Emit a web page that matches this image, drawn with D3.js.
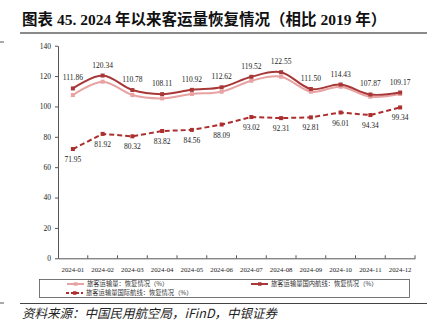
<!DOCTYPE html>
<html>
<head>
<meta charset="utf-8">
<script src="https://cdn.jsdelivr.net/npm/d3@7"></script>
<style>
  body { margin: 0; background: #fff; }
  svg { display: block; }
</style>
</head>
<body>
<svg id="chart" width="435" height="335"></svg>
<script>
// monthly passenger volume recovery vs 2019 (%)
const months = ["2024-01", "2024-02", "2024-03", "2024-04", "2024-05", "2024-06",
    "2024-07", "2024-08", "2024-09", "2024-10", "2024-11", "2024-12"];
const totalRecovery = [107.5, 116.3, 107.5, 105.3, 108.2, 109.7, 116.9, 119.6, 109.7, 113.0, 106.4, 108.2];
const domesticRecovery = [111.86, 120.34, 110.78, 108.11, 110.92, 112.62, 119.52, 122.55, 111.50, 114.43, 107.87, 109.17];
const intlRecovery = [71.95, 81.92, 80.32, 83.82, 84.56, 88.09, 93.02, 92.31, 92.81, 96.01, 94.34, 99.34];
const yTicks = [0, 20, 40, 60, 80, 100, 120, 140];

const serif = "'Liberation Serif', 'Times New Roman', serif";
const cjk = "'Noto Sans CJK SC', sans-serif";

const svg = d3.select("#chart");

// header
svg.append("text")
    .attr("x", 22).attr("y", 25)
    .style("font-family", serif + ", 'Noto Sans CJK SC'")
    .style("font-weight", "bold")
    .style("font-size", "15.5px")
    .attr("fill", "#111")
    .text("图表 45. 2024 年以来客运量恢复情况（相比 2019 年）");

svg.append("line")
    .attr("x1", 20).attr("x2", 427).attr("y1", 33).attr("y2", 33)
    .attr("stroke", "#8a8a8a").attr("stroke-width", 2);

// small page marks at the left edge
svg.append("line").attr("x1", 0).attr("x2", 4).attr("y1", 42).attr("y2", 42)
    .attr("stroke", "#555").attr("stroke-width", 1);
svg.append("line").attr("x1", 0).attr("x2", 4).attr("y1", 303).attr("y2", 303)
    .attr("stroke", "#555").attr("stroke-width", 1);

const plot = { left: 58, right: 415, top: 45.7, bottom: 258.3 };

const x = d3.scaleBand().domain(months).range([plot.left, plot.right]);
const y = d3.scaleLinear().domain([0, 140]).range([plot.bottom, plot.top]);
const cx = d => x(d) + x.bandwidth() / 2;

// y axis
const yAxis = svg.append("g")
    .attr("transform", "translate(" + plot.left + ",0)")
    .call(d3.axisLeft(y).tickValues(yTicks).tickSize(3).tickPadding(4).tickSizeOuter(0));
yAxis.select(".domain").attr("stroke", "#555");
yAxis.selectAll(".tick line").attr("stroke", "#555");
yAxis.selectAll("text").style("font-family", serif).style("font-size", "7.5px").attr("fill", "#222");

// x axis, ticks at band edges pointing up
const xAxis = svg.append("g")
    .attr("transform", "translate(0," + plot.bottom + ")")
    .call(d3.axisBottom(x).tickSize(0).tickPadding(9));
xAxis.select(".domain").attr("stroke", "#555");
xAxis.selectAll("text").style("font-family", serif).style("font-size", "6.8px").attr("fill", "#222");
svg.append("g").selectAll("line")
    .data(months.slice(1).concat(["end"]))
    .join("line")
    .attr("x1", (d, i) => x(months[0]) + x.bandwidth() * (i + 1))
    .attr("x2", (d, i) => x(months[0]) + x.bandwidth() * (i + 1))
    .attr("y1", plot.bottom).attr("y2", plot.bottom - 3)
    .attr("stroke", "#555");

const series = [
    { name: "旅客运输量：恢复情况（%）", values: totalRecovery, color: "#e8a2a2", dash: null, smooth: true },
    { name: "旅客运输量国内航线：恢复情况（%）", values: domesticRecovery, color: "#a83838", dash: null, smooth: true },
    { name: "旅客运输量国际航线：恢复情况（%）", values: intlRecovery, color: "#ad2e2e", dash: "5,3", smooth: false }
];

series.forEach(s => {
    const line = d3.line()
        .x((d, i) => cx(months[i]))
        .y(d => y(d))
        .curve(s.smooth ? d3.curveCardinal.tension(0) : d3.curveLinear);

    svg.append("path")
        .datum(s.values)
        .attr("d", line)
        .attr("fill", "none")
        .attr("stroke", s.color)
        .attr("stroke-width", 2)
        .attr("stroke-dasharray", s.dash);

    svg.append("g").selectAll("rect")
        .data(s.values)
        .join("rect")
        .attr("x", (d, i) => cx(months[i]) - 2)
        .attr("y", d => y(d) - 2)
        .attr("width", 4).attr("height", 4)
        .attr("fill", s.color);
});

// value labels: domestic above, international below
svg.append("g").selectAll("text")
    .data(domesticRecovery)
    .join("text")
    .attr("x", (d, i) => cx(months[i]))
    .attr("y", d => y(d) - 8)
    .attr("text-anchor", "middle")
    .style("font-family", serif).style("font-size", "7.5px")
    .attr("fill", "#222")
    .text(d => d.toFixed(2));

svg.append("g").selectAll("text")
    .data(intlRecovery)
    .join("text")
    .attr("x", (d, i) => cx(months[i]))
    .attr("y", d => y(d) + 13)
    .attr("text-anchor", "middle")
    .style("font-family", serif).style("font-size", "7.5px")
    .attr("fill", "#222")
    .text(d => d.toFixed(2));

// legend
svg.append("rect")
    .attr("x", 39.5).attr("y", 279.5).attr("width", 370).attr("height", 18)
    .attr("fill", "#fff").attr("stroke", "#555").attr("stroke-width", 0.8);

const legendPos = [
    { x: 67, y: 284 },
    { x: 251, y: 284 },
    { x: 66, y: 293 }
];
series.forEach((s, i) => {
    const p = legendPos[i];
    svg.append("line")
        .attr("x1", p.x).attr("x2", p.x + 17)
        .attr("y1", p.y).attr("y2", p.y)
        .attr("stroke", s.color).attr("stroke-width", 2)
        .attr("stroke-dasharray", s.dash ? "3,2" : null);
    svg.append("rect")
        .attr("x", p.x + 7).attr("y", p.y - 1.75)
        .attr("width", 3.5).attr("height", 3.5)
        .attr("fill", s.color);
    svg.append("text")
        .attr("x", p.x + 20).attr("y", p.y + 2.3)
        .style("font-family", cjk).style("font-size", "6.3px")
        .attr("fill", "#333")
        .text(s.name);
});

// footer
svg.append("line")
    .attr("x1", 20).attr("x2", 427).attr("y1", 303.5).attr("y2", 303.5)
    .attr("stroke", "#444").attr("stroke-width", 1.2);

svg.append("text")
    .attr("x", 22).attr("y", 318)
    .style("font-family", cjk)
    .style("font-style", "italic")
    .style("font-size", "12.5px")
    .attr("fill", "#222")
    .text("资料来源：中国民用航空局，iFinD，中银证券");
</script>
</body>
</html>
